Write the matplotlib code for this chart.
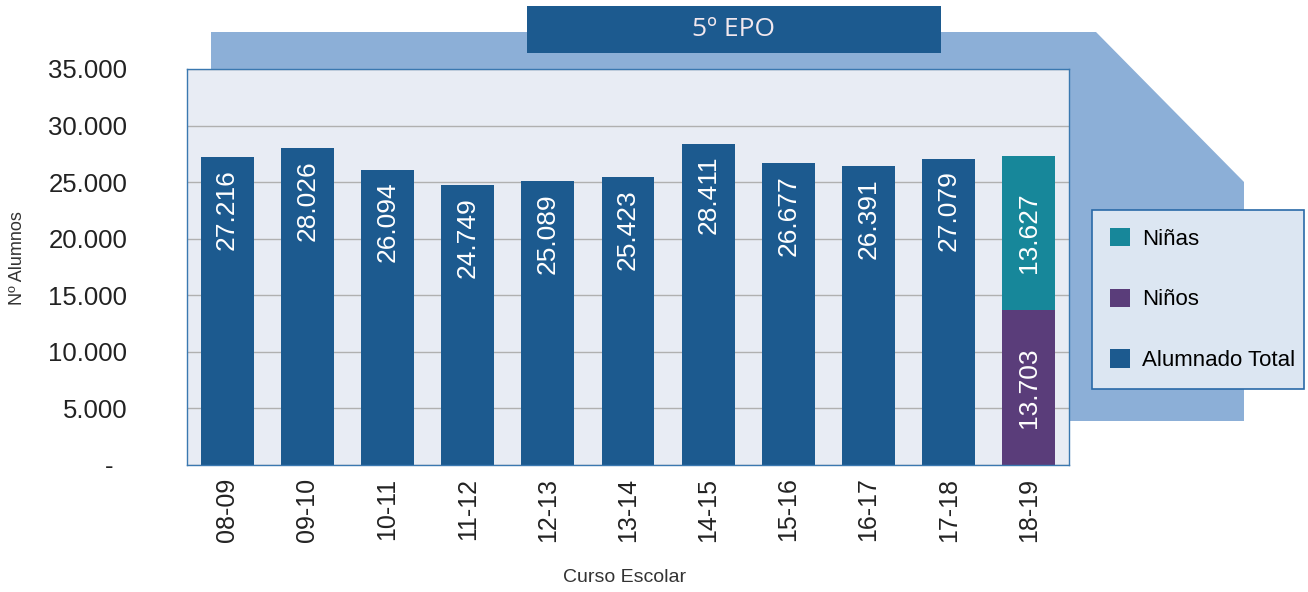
import matplotlib.pyplot as plt
from matplotlib.patches import Polygon, Rectangle, Patch

plt.rcParams['font.family'] = ['Liberation Sans', 'DejaVu Sans']

# alumnado de 5º EPO por curso escolar
cursos = ['08-09', '09-10', '10-11', '11-12', '12-13', '13-14',
          '14-15', '15-16', '16-17', '17-18', '18-19']
total = [27216, 28026, 26094, 24749, 25089, 25423, 28411, 26677, 26391, 27079]
ninos_1819 = 13703
ninas_1819 = 13627

yticks = [0, 5000, 10000, 15000, 20000, 25000, 30000, 35000]

c_total = '#1c5a8f'
c_ninas = '#17879a'
c_ninos = '#5a3d7a'


def miles(v):
    return f'{v:,}'.replace(',', '.')


W, H = 1308, 592
fig = plt.figure(figsize=(W / 100, H / 100), dpi=100)


def fx(px):
    return px / W


def fy(py):
    return 1 - py / H


# fondo decorativo detras del grafico
fondo = Polygon([(fx(211), fy(32)), (fx(1096), fy(32)), (fx(1244), fy(182)),
                 (fx(1244), fy(421)), (fx(1068), fy(421)), (fx(1068), fy(465)),
                 (fx(211), fy(465))],
                closed=True, transform=fig.transFigure, facecolor='#8cafd7',
                edgecolor='none', zorder=-1)
fig.patches.append(fondo)

# caja del titulo
caja = Rectangle((fx(527), fy(53)), fx(941) - fx(527), fy(6) - fy(53),
                 transform=fig.transFigure, facecolor=c_total,
                 edgecolor='none', zorder=3)
fig.patches.append(caja)
fig.text(fx(734), fy(30), '5º EPO', ha='center', va='center', color='#f2e8ee',
         fontsize=19, family=['Open Sans', 'DejaVu Sans'], zorder=4)

ax = fig.add_axes([fx(187), fy(465), fx(1069) - fx(187), fy(69) - fy(465)])
ax.set_facecolor('#e8ecf4')

x = list(range(len(cursos)))
barras = ax.bar(x[:-1], total, width=0.66, color=c_total, zorder=2)
b_ninos = ax.bar(x[-1], ninos_1819, width=0.66, color=c_ninos, zorder=2)
b_ninas = ax.bar(x[-1], ninas_1819, bottom=ninos_1819, width=0.66,
                 color=c_ninas, zorder=2)

for xi, v in zip(x[:-1], total):
    ax.annotate(miles(v), (xi, v), xytext=(0, -12), textcoords='offset pixels',
                rotation=90, ha='center', va='top', color='white', fontsize=19)
ax.bar_label(b_ninos, labels=[miles(ninos_1819)], label_type='center',
             rotation=90, color='white', fontsize=19)
ax.bar_label(b_ninas, labels=[miles(ninas_1819)], label_type='center',
             rotation=90, color='white', fontsize=19)

ax.set_xlim(-0.5, len(cursos) - 0.5)
ax.set_ylim(0, 35000)
ax.set_yticks(yticks)
ax.set_yticklabels(['-  '] + [miles(v) for v in yticks[1:]])
ax.set_xticks(x)
ax.set_xticklabels(cursos, rotation=90)
ax.tick_params(axis='y', length=0, pad=43, labelsize=18.5, labelcolor='#222222')
ax.tick_params(axis='x', length=0, pad=9, labelsize=18, labelcolor='#222222')
ax.grid(axis='y', color='#b0b0b0', linewidth=1, zorder=1)
ax.set_axisbelow(True)
for s in ax.spines.values():
    s.set_color('#3a78b0')
    s.set_linewidth(1)

fig.text(fx(18), fy(258), 'Nº Alumnos', rotation=90, ha='center', va='center',
         fontsize=13, color='#333333')
fig.text(fx(625), fy(578), 'Curso Escolar', ha='center', va='center',
         fontsize=14, color='#333333')

handles = [Patch(facecolor=c_ninas, label='Niñas'),
           Patch(facecolor=c_ninos, label='Niños'),
           Patch(facecolor=c_total, label='Alumnado Total')]
leg = fig.legend(handles=handles, loc='upper left',
                 bbox_to_anchor=(fx(1092), fy(210), fx(1304) - fx(1092), 0.0),
                 mode='expand', fontsize=16, frameon=True, fancybox=False,
                 handlelength=0.9, handleheight=0.9, handletextpad=0.55,
                 labelspacing=1.75, borderpad=0.8, borderaxespad=0)
leg.get_frame().set_facecolor('#dce6f2')
leg.get_frame().set_edgecolor('#2a6aa8')
leg.get_frame().set_alpha(1)
leg.get_frame().set_linewidth(1.2)

fig.savefig('out.png', dpi=100)
